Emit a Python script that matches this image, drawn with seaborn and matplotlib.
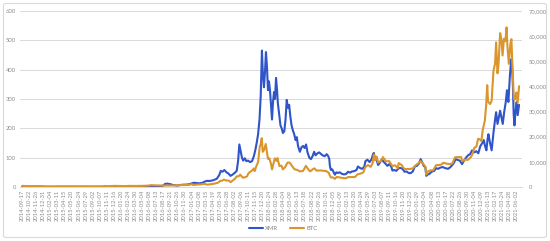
import matplotlib
matplotlib.use("Agg")
import matplotlib.pyplot as plt
from matplotlib.patches import FancyBboxPatch
from matplotlib.ticker import FuncFormatter, MultipleLocator
import seaborn as sns
import pandas as pd

# ---------------- data ----------------
xmr_dates = [
    "2014-09-17", "2014-10-01", "2014-10-15", "2014-11-01", "2014-11-15", "2014-12-01", "2014-12-15",
    "2015-01-01", "2015-02-01", "2015-03-01", "2015-04-01", "2015-05-01", "2015-06-01", "2015-07-01",
    "2015-08-01", "2015-09-01", "2015-10-01", "2015-11-01", "2015-12-01", "2016-01-01", "2016-02-01",
    "2016-03-01", "2016-04-01", "2016-05-01", "2016-06-01", "2016-07-01", "2016-08-01", "2016-08-15",
    "2016-08-25", "2016-09-05", "2016-09-20", "2016-10-05", "2016-10-25", "2016-11-15", "2016-12-01",
    "2016-12-20", "2017-01-05", "2017-01-15", "2017-01-28", "2017-02-10", "2017-02-25", "2017-03-08",
    "2017-03-20", "2017-04-01", "2017-04-15", "2017-04-28", "2017-05-08", "2017-05-20", "2017-05-28",
    "2017-06-05", "2017-06-15", "2017-06-25", "2017-07-05", "2017-07-15", "2017-07-25", "2017-08-05",
    "2017-08-15", "2017-08-22", "2017-08-28", "2017-09-03", "2017-09-10", "2017-09-16", "2017-09-24",
    "2017-10-02", "2017-10-10", "2017-10-20", "2017-10-30", "2017-11-08", "2017-11-15", "2017-11-22",
    "2017-11-29", "2017-12-06", "2017-12-12", "2017-12-18", "2017-12-23", "2017-12-28", "2018-01-02",
    "2018-01-07", "2018-01-12", "2018-01-17", "2018-01-22", "2018-01-27", "2018-02-01", "2018-02-06",
    "2018-02-11", "2018-02-16", "2018-02-21", "2018-02-26", "2018-03-03", "2018-03-07", "2018-03-13",
    "2018-03-20", "2018-03-26", "2018-04-01", "2018-04-08", "2018-04-14", "2018-04-20", "2018-04-26",
    "2018-05-02", "2018-05-08", "2018-05-14", "2018-05-20", "2018-05-27", "2018-06-03", "2018-06-09",
    "2018-06-15", "2018-06-24", "2018-07-02", "2018-07-10", "2018-07-18", "2018-07-25", "2018-08-01",
    "2018-08-10", "2018-08-18", "2018-08-26", "2018-09-03", "2018-09-10", "2018-09-20", "2018-09-28",
    "2018-10-06", "2018-10-15", "2018-10-25", "2018-11-04", "2018-11-12", "2018-11-17", "2018-11-20",
    "2018-11-25", "2018-12-02", "2018-12-10", "2018-12-15", "2018-12-22", "2018-12-30", "2019-01-08",
    "2019-01-18", "2019-01-28", "2019-02-08", "2019-02-18", "2019-02-28", "2019-03-10", "2019-03-20",
    "2019-04-01", "2019-04-08", "2019-04-20", "2019-04-30", "2019-05-10", "2019-05-15", "2019-05-25",
    "2019-06-05", "2019-06-15", "2019-06-22", "2019-06-26", "2019-07-02", "2019-07-10", "2019-07-17",
    "2019-07-25", "2019-08-05", "2019-08-12", "2019-08-22", "2019-09-01", "2019-09-10", "2019-09-20",
    "2019-09-26", "2019-10-05", "2019-10-15", "2019-10-27", "2019-11-05", "2019-11-15", "2019-11-25",
    "2019-12-05", "2019-12-15", "2019-12-25", "2020-01-05", "2020-01-15", "2020-01-25", "2020-02-05",
    "2020-02-13", "2020-02-20", "2020-02-28", "2020-03-07", "2020-03-12", "2020-03-18", "2020-03-28",
    "2020-04-07", "2020-04-20", "2020-04-30", "2020-05-10", "2020-05-20", "2020-06-01", "2020-06-15",
    "2020-06-28", "2020-07-10", "2020-07-25", "2020-08-05", "2020-08-15", "2020-08-25", "2020-09-05",
    "2020-09-15", "2020-09-25", "2020-10-05", "2020-10-15", "2020-10-25", "2020-11-05", "2020-11-15",
    "2020-11-25", "2020-12-05", "2020-12-15", "2020-12-22", "2020-12-28", "2021-01-04", "2021-01-10",
    "2021-01-14", "2021-01-22", "2021-01-30", "2021-02-08", "2021-02-16", "2021-02-21", "2021-02-28",
    "2021-03-06", "2021-03-13", "2021-03-20", "2021-03-26", "2021-04-02", "2021-04-10", "2021-04-16",
    "2021-04-23", "2021-04-30", "2021-05-07", "2021-05-11", "2021-05-16", "2021-05-19", "2021-05-23",
    "2021-05-28", "2021-06-03", "2021-06-08", "2021-06-15",
]
xmr_values = [
    2.4, 2.2, 2.0, 1.6, 1.2, 0.9, 0.6,
    0.5, 0.45, 0.6, 0.8, 0.9, 0.6, 0.5,
    0.7, 0.55, 0.45, 0.6, 0.5, 0.45, 0.55,
    1.5, 1.2, 1.3, 1.9, 2.3, 2.8, 4.5,
    10.5, 11.5, 9.5, 6.5, 5.0, 7.5, 8.0,
    9.0, 12.5, 14.5, 13.5, 12.5, 14.0, 18.0,
    21.0, 20.5, 22.0, 25.0, 28.0, 40.0, 55.0,
    52.0, 58.0, 50.0, 46.0, 38.0, 42.0, 48.0,
    55.0, 90.0, 145.0, 125.0, 100.0, 90.0, 98.0,
    88.0, 90.0, 85.0, 88.0, 105.0, 125.0, 150.0,
    180.0, 230.0, 310.0, 465.0, 380.0, 340.0, 390.0,
    460.0, 410.0, 330.0, 360.0, 330.0, 280.0, 230.0,
    290.0, 324.0, 300.0, 372.0, 330.0, 286.0, 250.0,
    210.0, 200.0, 184.0, 190.0, 230.0, 297.0, 270.0,
    280.0, 240.0, 210.0, 194.0, 180.0, 160.0, 170.0,
    140.0, 120.0, 135.0, 140.0, 133.0, 145.0, 118.0,
    100.0, 95.0, 105.0, 120.0, 108.0, 115.0, 118.0,
    113.0, 108.0, 105.0, 112.0, 105.0, 95.0, 72.0,
    58.0, 60.0, 48.0, 42.0, 50.0, 48.0, 50.0,
    45.0, 43.0, 44.0, 52.0, 49.0, 53.0, 54.0,
    58.0, 70.0, 64.0, 62.0, 70.0, 88.0, 93.0,
    85.0, 95.0, 112.0, 116.0, 95.0, 92.0, 75.0,
    82.0, 95.0, 87.0, 80.0, 72.0, 78.0, 70.0,
    56.0, 58.0, 55.0, 64.0, 65.0, 62.0, 52.0,
    53.0, 48.0, 47.0, 53.0, 70.0, 72.0, 80.0,
    95.0, 85.0, 72.0, 68.0, 38.0, 42.0, 45.0,
    52.0, 55.0, 64.0, 62.0, 66.0, 68.0, 64.0,
    62.0, 68.0, 80.0, 95.0, 92.0, 90.0, 78.0,
    90.0, 100.0, 108.0, 112.0, 125.0, 118.0, 122.0,
    115.0, 140.0, 150.0, 160.0, 140.0, 125.0, 165.0,
    180.0, 150.0, 125.0, 185.0, 230.0, 255.0, 215.0,
    235.0, 260.0, 235.0, 215.0, 255.0, 290.0, 330.0,
    290.0, 375.0, 435.0, 420.0, 330.0, 250.0, 210.0,
    255.0, 290.0, 245.0, 280.0,
]

btc_dates = [
    "2014-09-17", "2014-10-01", "2014-10-15", "2014-11-01", "2014-11-15", "2014-12-01", "2014-12-15",
    "2015-01-01", "2015-01-15", "2015-02-01", "2015-02-15", "2015-03-01", "2015-03-15", "2015-04-01",
    "2015-04-15", "2015-05-01", "2015-06-01", "2015-07-01", "2015-07-15", "2015-08-01", "2015-08-20",
    "2015-09-15", "2015-10-15", "2015-11-04", "2015-11-15", "2015-12-01", "2015-12-15", "2016-01-01",
    "2016-01-15", "2016-02-01", "2016-03-01", "2016-04-01", "2016-05-01", "2016-06-01", "2016-06-17",
    "2016-07-01", "2016-08-01", "2016-09-01", "2016-10-01", "2016-11-01", "2016-12-01", "2016-12-20",
    "2017-01-04", "2017-01-12", "2017-02-01", "2017-02-20", "2017-03-03", "2017-03-24", "2017-04-15",
    "2017-05-01", "2017-05-15", "2017-05-25", "2017-06-05", "2017-06-12", "2017-06-25", "2017-07-05",
    "2017-07-16", "2017-07-25", "2017-08-05", "2017-08-15", "2017-08-25", "2017-09-01", "2017-09-15",
    "2017-09-25", "2017-10-05", "2017-10-12", "2017-10-20", "2017-11-01", "2017-11-08", "2017-11-12",
    "2017-11-20", "2017-11-29", "2017-12-07", "2017-12-12", "2017-12-17", "2017-12-22", "2017-12-28",
    "2018-01-06", "2018-01-12", "2018-01-17", "2018-01-24", "2018-02-01", "2018-02-06", "2018-02-12",
    "2018-02-20", "2018-02-28", "2018-03-05", "2018-03-15", "2018-03-25", "2018-04-01", "2018-04-12",
    "2018-04-24", "2018-05-05", "2018-05-15", "2018-05-28", "2018-06-10", "2018-06-25", "2018-07-10",
    "2018-07-24", "2018-08-05", "2018-08-14", "2018-08-28", "2018-09-05", "2018-09-15", "2018-10-01",
    "2018-10-15", "2018-11-01", "2018-11-14", "2018-11-20", "2018-11-25", "2018-12-05", "2018-12-15",
    "2018-12-24", "2019-01-05", "2019-01-20", "2019-02-05", "2019-02-20", "2019-03-10", "2019-03-25",
    "2019-04-05", "2019-04-20", "2019-05-05", "2019-05-14", "2019-05-28", "2019-06-10", "2019-06-20",
    "2019-06-26", "2019-07-02", "2019-07-10", "2019-07-17", "2019-08-01", "2019-08-10", "2019-08-25",
    "2019-09-10", "2019-09-25", "2019-10-10", "2019-10-23", "2019-10-27", "2019-11-10", "2019-11-25",
    "2019-12-10", "2019-12-20", "2020-01-05", "2020-01-20", "2020-02-01", "2020-02-13", "2020-02-25",
    "2020-03-08", "2020-03-12", "2020-03-20", "2020-04-01", "2020-04-15", "2020-04-30", "2020-05-10",
    "2020-05-25", "2020-06-05", "2020-06-20", "2020-07-05", "2020-07-20", "2020-08-01", "2020-08-15",
    "2020-09-01", "2020-09-05", "2020-09-20", "2020-10-05", "2020-10-20", "2020-10-28", "2020-11-05",
    "2020-11-15", "2020-11-24", "2020-12-01", "2020-12-10", "2020-12-17", "2020-12-27", "2021-01-03",
    "2021-01-08", "2021-01-12", "2021-01-22", "2021-01-30", "2021-02-08", "2021-02-16", "2021-02-21",
    "2021-02-28", "2021-03-05", "2021-03-13", "2021-03-20", "2021-03-25", "2021-04-01", "2021-04-08",
    "2021-04-14", "2021-04-18", "2021-04-25", "2021-05-03", "2021-05-08", "2021-05-12", "2021-05-19",
    "2021-05-23", "2021-05-28", "2021-06-02", "2021-06-08", "2021-06-15",
]
btc_values = [
    457, 386, 394, 325, 376, 378, 347,
    315, 210, 225, 235, 260, 285, 245,
    220, 232, 225, 258, 285, 280, 235,
    230, 255, 400, 320, 360, 450, 435,
    380, 370, 435, 415, 450, 535, 750,
    675, 600, 575, 615, 730, 750, 800,
    1130, 800, 980, 1050, 1270, 940, 1180,
    1420, 1750, 2400, 2550, 2950, 2550, 2600,
    1930, 2500, 3200, 4200, 4300, 4900, 3700,
    3900, 4200, 5400, 6000, 6700, 7400, 6300,
    8200, 9900, 16000, 17000, 19400, 14000, 14600,
    17100, 13900, 11200, 11400, 9200, 7000, 8900,
    11400, 10400, 11500, 8300, 8500, 7000, 7900,
    9700, 9700, 8500, 7100, 6800, 6200, 6400,
    8400, 7000, 6200, 7100, 7400, 6500, 6600,
    6500, 6350, 5700, 4500, 3800, 3800, 3250,
    4000, 3850, 3600, 3450, 3950, 3950, 4000,
    5000, 5300, 5800, 7900, 8700, 8000, 9500,
    12900, 10600, 12100, 9700, 10400, 11900, 10200,
    10300, 8400, 8600, 7500, 9500, 8800, 7100,
    7200, 7150, 7400, 8700, 9400, 10300, 9300,
    8000, 4900, 6200, 6600, 6650, 8700, 8700,
    8900, 9650, 9300, 9100, 9400, 11800, 11900,
    11900, 10200, 10900, 10800, 12000, 13300, 15600,
    16000, 19200, 19000, 18300, 22800, 26300, 32800,
    40500, 34000, 33000, 34300, 46200, 49100, 57500,
    45200, 48800, 61200, 58300, 52300, 59000, 58000,
    63500, 56200, 49000, 57000, 58800, 50000, 37000,
    34700, 35600, 37600, 33400, 40100,
]

tick_labels = [
    "2014-09-17", "2014-10-22", "2014-11-26", "2014-12-31", "2015-02-04", "2015-03-11", "2015-04-15",
    "2015-05-20", "2015-06-24", "2015-07-29", "2015-09-02", "2015-10-07", "2015-11-11", "2015-12-16",
    "2016-01-20", "2016-02-24", "2016-03-30", "2016-05-04", "2016-06-08", "2016-07-13", "2016-08-17",
    "2016-09-21", "2016-10-26", "2016-11-30", "2017-01-04", "2017-02-08", "2017-03-15", "2017-04-19",
    "2017-05-24", "2017-06-28", "2017-08-02", "2017-09-06", "2017-10-11", "2017-11-15", "2017-12-20",
    "2018-01-24", "2018-02-28", "2018-04-04", "2018-05-09", "2018-06-13", "2018-07-18", "2018-08-22",
    "2018-09-26", "2018-10-31", "2018-12-05", "2019-01-09", "2019-02-13", "2019-03-20", "2019-04-24",
    "2019-05-29", "2019-07-03", "2019-08-07", "2019-09-11", "2019-10-16", "2019-11-20", "2019-12-25",
    "2020-01-29", "2020-03-04", "2020-04-08", "2020-05-13", "2020-06-17", "2020-07-22", "2020-08-26",
    "2020-09-30", "2020-11-04", "2020-12-09", "2021-01-13", "2021-02-17", "2021-03-24", "2021-04-28",
    "2021-06-02",
]

series_names = ["XMR", "BTC"]
xmr_color = "#3054CA"
btc_color = "#DA952C"

# ---------------- figure ----------------
sns.set_style("white")
plt.rcParams["font.family"] = ["Lato", "DejaVu Sans"]

W, H = 550, 241
fig = plt.figure(figsize=(W / 100, H / 100), dpi=100)
fig.patch.set_facecolor("white")
fig.patches.append(FancyBboxPatch((3.5 / W, 3.5 / H), 543 / W, 234 / H,
                                  boxstyle="round,pad=0,rounding_size=0.006",
                                  transform=fig.transFigure, fill=False,
                                  ec="#D9D9D9", lw=0.8))

ax = fig.add_axes([20 / W, 1 - 187 / H, 502 / W, 176 / H])
ax2 = ax.twinx()

xmr_df = pd.DataFrame({"date": pd.to_datetime(xmr_dates), "price": xmr_values})
btc_df = pd.DataFrame({"date": pd.to_datetime(btc_dates), "price": btc_values})

sns.lineplot(data=xmr_df, x="date", y="price", ax=ax, color=xmr_color, lw=1.5,
             label=series_names[0], legend=False)
sns.lineplot(data=btc_df, x="date", y="price", ax=ax2, color=btc_color, lw=1.5,
             label=series_names[1], legend=False)

# x axis: date ticks from the labels
start = pd.Timestamp("2014-09-17")
px_per_day = 0.2017
x0 = start - pd.Timedelta(days=(22.3 - 20) / px_per_day)
x1 = start + pd.Timedelta(days=(522 - 22.3) / px_per_day)
ax.set_xlim(x0, x1)
ax.set_xticks(pd.to_datetime(tick_labels))
ax.set_xticklabels(tick_labels, rotation=90, fontsize=4.2, color="#8C8C8C")
ax.tick_params(axis="x", length=0, pad=2)

ax.set_ylim(0, 600)
ax.yaxis.set_major_locator(MultipleLocator(100))
ax.tick_params(axis="y", length=0, pad=3, labelsize=4.2, labelcolor="#8C8C8C")
ax.grid(axis="y", color="#D9D9D9", lw=0.7)
ax.set_axisbelow(True)

ax2.set_ylim(0, 70000)
ax2.yaxis.set_major_locator(MultipleLocator(10000))
ax2.yaxis.set_major_formatter(FuncFormatter(lambda v, p: f"{int(v):,}"))
ax2.tick_params(axis="y", length=0, pad=5, labelsize=4.2, labelcolor="#8C8C8C")
ax2.grid(False)

for a in (ax, ax2):
    a.set_xlabel("")
    a.set_ylabel("")
    for s in a.spines.values():
        s.set_visible(False)
ax.spines["bottom"].set_visible(True)
ax.spines["bottom"].set_color("#D9D9D9")
ax.spines["bottom"].set_linewidth(0.7)

handles = ax.get_lines()[:1] + ax2.get_lines()[:1]
fig.legend(handles, series_names, loc="center", bbox_to_anchor=(283 / W, 1 - 228 / H),
           ncol=2, frameon=False, fontsize=4.2, handlelength=2.4, columnspacing=2.0,
           handletextpad=0.4, labelcolor="#7F7F7F")

fig.savefig("out.png", dpi=100, facecolor="white")
